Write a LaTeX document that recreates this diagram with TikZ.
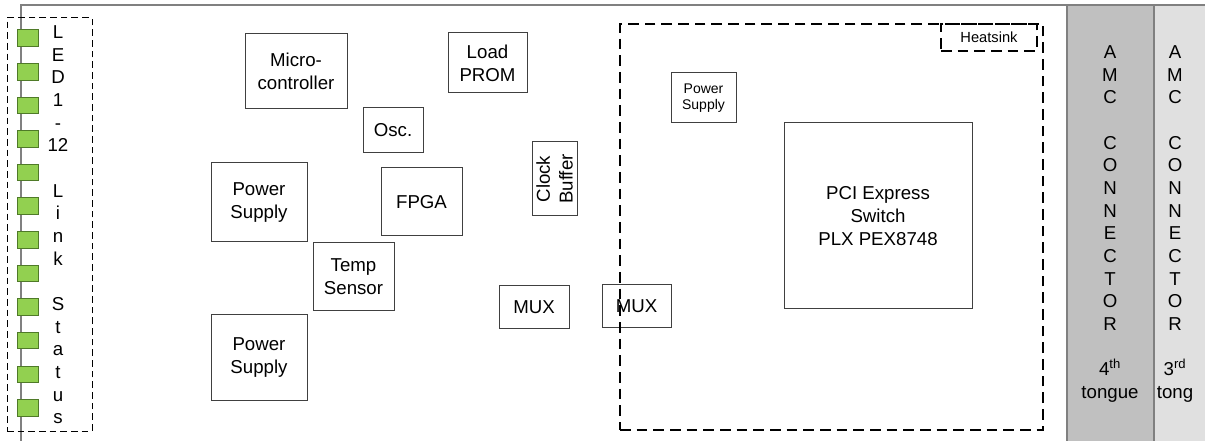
\documentclass[tikz,border=0pt]{standalone}
\usepackage{fontspec}
\setmainfont{Liberation Sans}
\usetikzlibrary{fit}
\definecolor{ledgreen}{HTML}{92D050}
\definecolor{ledborder}{HTML}{4F7A28}
\definecolor{conA}{HTML}{C0C0C0}
\definecolor{conB}{HTML}{E0E0E0}
\definecolor{boxline}{HTML}{404040}
\definecolor{boardline}{HTML}{808080}
\begin{document}
\begin{tikzpicture}[x=0.75pt,y=-0.75pt,
  font=\fontsize{14}{17}\selectfont,
  part/.style={draw=boxline, line width=0.75pt, inner sep=0pt},
  led/.style={draw=ledborder, fill=ledgreen, line width=0.75pt, inner sep=0pt},
  zone/.style={draw=black, line width=1.3pt, dash pattern=on 8pt off 4.5pt, inner sep=0pt},
  ledzone/.style={draw=black, line width=0.75pt, dash pattern=on 5pt off 3pt, inner sep=0pt},
  board/.style={draw=boardline, line width=1pt},
  vtext/.style={align=center, inner sep=0pt}]
\useasboundingbox (0,0) rectangle (1205,441);

% connectors (AMC tongues)
\fill[conA] (1067,5) rectangle (1154,441);
\fill[conB] (1154,5) rectangle (1205,441);
\draw[board] (21,441) -- (21,5) -- (1205,5);
\draw[board] (1067,5) -- (1067,441);
\draw[board] (1154,5) -- (1154,441);
\node[vtext] (amc4) at (1110,224) {A\\M\\C\\~\\C\\O\\N\\N\\E\\C\\T\\O\\R\\~\\4\textsuperscript{th}\\tongue};
\node[vtext] (amc3) at (1175,224) {A\\M\\C\\~\\C\\O\\N\\N\\E\\C\\T\\O\\R\\~\\3\textsuperscript{rd}\\tong};

% LEDs
\node[ledzone, fit={(7,18) (92,431)}] (ledzone) {};
\foreach \i in {0,...,11}{
  \node[led, fit={(17,{30+33.6*\i}) (38,{46.5+33.6*\i})}] (led\i) {};
}
\node[vtext] (ledtext) at (58,225) {L\\E\\D\\1\\-\\12\\~\\L\\i\\n\\k\\~\\S\\t\\a\\t\\u\\s};

% board parts
\node[part, fit={(245,34) (347,109)}] (mcu) {};
\node[vtext] at (mcu.center) {Micro-\\controller};
\node[part, fit={(448,33) (527,93)}] (prom) {};
\node[vtext] at (prom.center) {Load\\PROM};
\node[part, fit={(363,108) (423,153)}] (osc) {};
\node[vtext] at (osc.center) {Osc.};
\node[part, fit={(211,163) (307,242)}] (ps1) {};
\node[vtext] at (ps1.center) {Power\\Supply};
\node[part, fit={(381,168) (462,236)}] (fpga) {};
\node[vtext] at (fpga.center) {FPGA};
\node[part, fit={(532,142) (577,216)}] (clk) {};
\node[vtext, rotate=90] at (clk.center) {Clock\\Buffer};
\node[part, fit={(313,243) (394,311)}] (temp) {};
\node[vtext] at (temp.center) {Temp\\Sensor};
\node[part, fit={(211,315) (307,400)}] (ps2) {};
\node[vtext] at (ps2.center) {Power\\Supply};
\node[part, fit={(499,286) (569,328)}] (mux1) {};
\node[vtext] at (mux1.center) {MUX};
\node[part, fit={(602,285) (671,327)}] (mux2) {};
\node[vtext] at (mux2.center) {MUX};
\node[part, fit={(671,73) (736,123)}] (ps3) {};
\node[vtext, font=\fontsize{10.5}{12.5}\selectfont] at (ps3.center) {Power\\Supply};
\node[part, fit={(784,123) (972,309)}] (pcie) {};
\node[vtext, font=\fontsize{14}{17.5}\selectfont] at (pcie.center) {PCI Express\\Switch\\PLX PEX8748};

% PCIe switch zone and heatsink
\node[zone, fit={(620,24) (1043,430)}] (pcizone) {};
\node[zone, fit={(941,24) (1037,51)}] (heatsink) {};
\node[vtext, font=\fontsize{11}{13}\selectfont] at (heatsink.center) {Heatsink};
\end{tikzpicture}
\end{document}
